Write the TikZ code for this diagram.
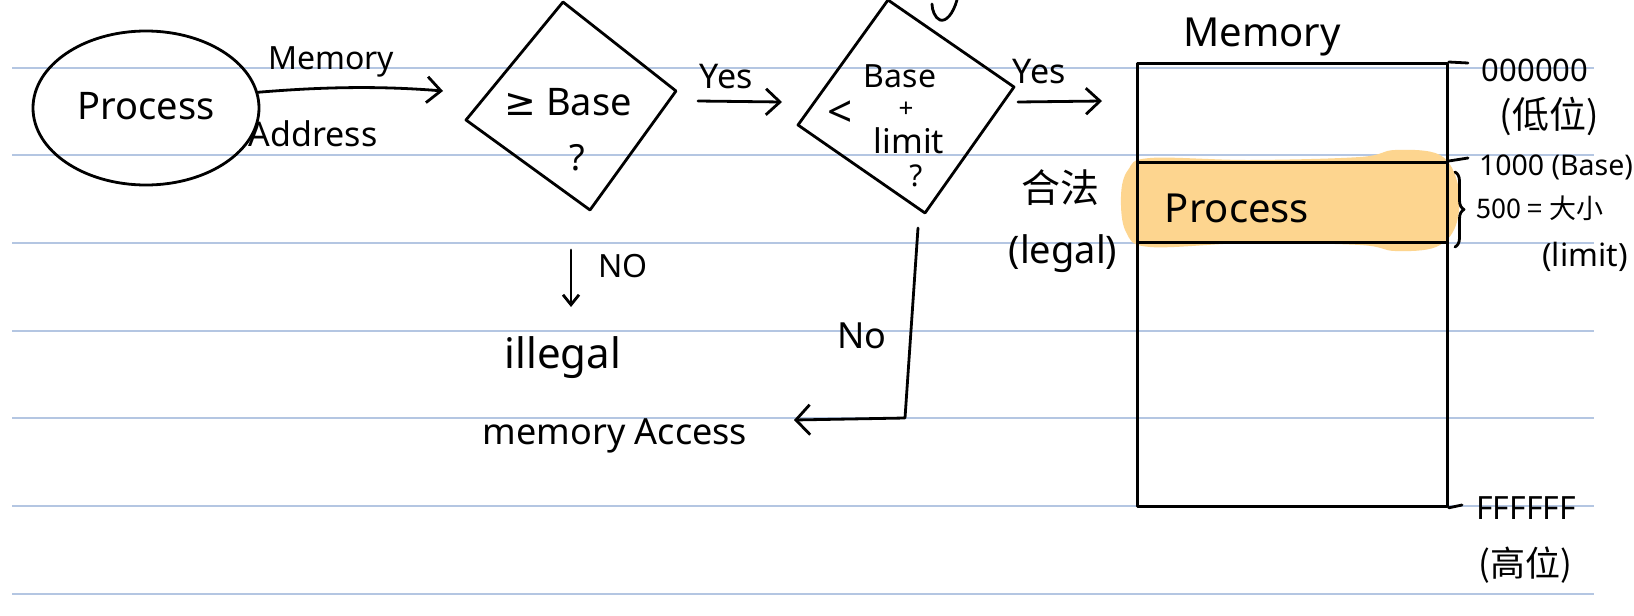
\documentclass[tikz,border=0pt]{standalone}
\usepackage{fontspec}
\setmainfont{Noto Sans}
\newfontfamily\cjk{Noto Sans CJK TC}
\newfontfamily\symf{DejaVu Sans}
\usetikzlibrary{arrows.meta,shapes.geometric,decorations.pathreplacing}
\definecolor{rule}{RGB}{180,198,226}
\definecolor{hl}{RGB}{253,213,143}
\newcommand{\fsz}[1]{\fontsize{#1}{#1}\selectfont}
\tikzset{
  ink/.style={line width=2.8pt, line cap=round, line join=round},
  arr/.style={ink, -{Straight Barb[length=14pt,width=26pt,line width=2.8pt]}},
  lbl/.style={inner sep=0pt, text=black},
  ruleline/.style={rule, line width=2pt},
}
\begin{document}
\begin{tikzpicture}[x=1pt,y=-1pt]
\useasboundingbox (0,0) rectangle (1634,616);
\fill[white] (0,0) rectangle (1634,616);
% ruled lines
\foreach \yy in {67.7,155.3,243,330.6,418.3,505.9,593.6}
  \draw[ruleline] (12,\yy) -- (1594,\yy);

% orange highlight
\fill[hl] plot[smooth cycle, tension=0.6] coordinates {(1121,196) (1128,170) (1150,158) (1250,160) (1360,157) (1395,150) (1440,155) (1458,185) (1456,225) (1436,247) (1395,251) (1360,245) (1250,243) (1150,247) (1126,232)};

% process ellipse
\node[ellipse, draw, ink, minimum width=226pt, minimum height=154pt, inner sep=0pt] (proc) at (146,108) {};
\node[lbl, font=\fsz{38}] (proctxt) at (146,106) {Process};

% arrow memory address
\coordinate (a1e) at (443,91);
\draw[arr] (proc.8) .. controls (310,88) and (370,85) .. (a1e);
\node[lbl, font=\fsz{32}] (memaddr1) at (331,62) {Memory};
\node[lbl, font=\fsz{34}] (memaddr2) at (313,134) {Address};

% diamond 1
\coordinate (d1t) at (563,2);
\coordinate (d1r) at (676,91);
\coordinate (d1b) at (590,210);
\coordinate (d1l) at (466,120);
\draw[ink] (d1t) -- (d1r) -- (d1b) -- (d1l) -- cycle;
\node[lbl, font=\fsz{38}] (d1txt) at (568,102) {{\symf ≥} Base};
\node[lbl, font=\fsz{36}] (d1q) at (577,158) {?};

% yes 1
\coordinate (y1s) at (698,101);
\coordinate (y1e) at (782,102);
\draw[arr] (y1s) -- (y1e);
\node[lbl, font=\fsz{34}] (yes1) at (726,77) {Yes};

% diamond 2
\coordinate (d2t) at (888,0);
\coordinate (d2r) at (1014,87);
\coordinate (d2b) at (925,213);
\coordinate (d2l) at (798,125);
\draw[ink] (d2t) -- (d2r) -- (d2b) -- (d2l) -- cycle;
\node[lbl, font=\fsz{32}] (d2base) at (900,76) {Base};
\node[lbl, font=\fsz{26}] (d2plus) at (906,110) {+};
\node[lbl, font=\fsz{34}] (d2limit) at (909,141) {limit};
\node[lbl, font=\fsz{44}] (d2lt) at (840,114) {<};
\node[lbl, font=\fsz{30}] (d2q) at (916,176) {?};
% fragment at top
\draw[ink] (957,0) .. controls (953,14) and (946,22) .. (940,20) .. controls (935,18) and (932,10) .. (932,4);

% yes 2
\coordinate (y2s) at (1018,102);
\coordinate (y2e) at (1102,101);
\draw[arr] (y2s) -- (y2e);
\node[lbl, font=\fsz{34}] (yes2) at (1039,72) {Yes};

% memory block
\node[draw, ink, minimum width=310pt, minimum height=443pt, inner sep=0pt, anchor=north west] (mem) at (1136,62) {};
\node[draw, ink, minimum width=310pt, minimum height=80pt, inner sep=0pt, anchor=north west] (band) at (1136,161) {};
\node[lbl, font=\fsz{40}] (memtitle) at (1262,37) {Memory};
\node[lbl, font=\fsz{40}] (bandtxt) at (1237,208) {Process};

% ticks
\coordinate (t1) at (1468,63);
\coordinate (t2) at (1468,158);
\coordinate (t3) at (1462,505);
\draw[ink] (mem.north east) -- (t1);
\draw[ink] (band.north east) -- (t2);
\draw[ink] (mem.south east) -- (t3);
\draw[ink, decorate, decoration={brace, amplitude=9pt}] (1455,172) -- (1455,247);

% right labels
\node[lbl, font=\fsz{31}] (l000) at (1535,70) {000000};
\node[lbl, font=\fsz{37}\cjk] (llow) at (1549,116) {(低位)};
\node[lbl, font=\fsz{28.5}] (l1000) at (1556,167) {1000 (Base)};
\node[lbl, font=\fsz{27}\cjk] (l500) at (1540,208) {500 = 大小};
\node[lbl, font=\fsz{32}] (llimit) at (1585,257) {(limit)};
\node[lbl, font=\fsz{32}] (lfff) at (1526,508) {FFFFFF};
\node[lbl, font=\fsz{35}\cjk] (lhigh) at (1525,565) {(高位)};

% legal
\node[lbl, font=\fsz{39}\cjk] (hefa) at (1060,188) {合法};
\node[lbl, font=\fsz{38}] (legal) at (1063,254) {(legal)};

% NO branch from diamond 1
\coordinate (n1s) at (571,250);
\coordinate (n1e) at (571,307);
\draw[ink, -{Straight Barb[length=10pt,width=16pt,line width=2.8pt]}] (n1s) -- (n1e);
\node[lbl, font=\fsz{32}] (no1) at (623,266) {NO};

% No branch from diamond 2
\coordinate (n2a) at (918,228);
\coordinate (n2b) at (905,418);
\coordinate (n2e) at (794,420);
\draw[ink, -{Straight Barb[length=14pt,width=30pt,line width=2.8pt]}] (n2a) -- (n2b) -- (n2e);
\node[lbl, font=\fsz{36}] (no2) at (862,336) {No};

% illegal memory access
\node[lbl, font=\fsz{42}] (illegal) at (563,358) {illegal};
\node[lbl, font=\fsz{36}] (access) at (615,436) {memory Access};
\end{tikzpicture}
\end{document}
